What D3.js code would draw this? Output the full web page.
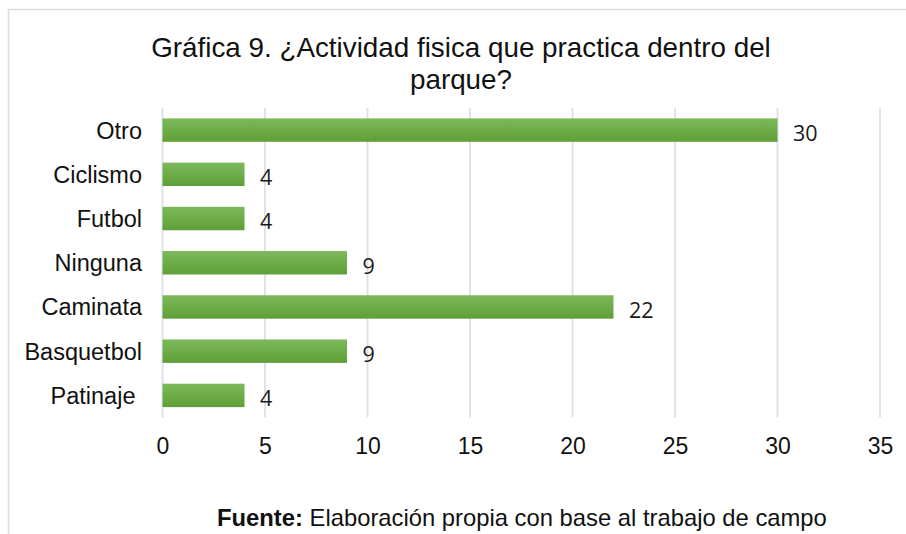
<!DOCTYPE html>
<html>
<head>
<meta charset="utf-8">
<script src="https://cdn.jsdelivr.net/npm/d3@7"></script>
<style>
  html, body { margin: 0; padding: 0; background: #fff; }
  svg { display: block; }
</style>
</head>
<body>
<svg id="chart" width="906" height="534"></svg>
<script>
const categories = ["Otro", "Ciclismo", "Futbol", "Ninguna", "Caminata", "Basquetbol", "Patinaje "];
const values = [30, 4, 4, 9, 22, 9, 4];
const xTicks = [0, 5, 10, 15, 20, 25, 30, 35];
const titleLines = ["Gráfica 9. ¿Actividad fisica que practica dentro del", "parque?"];
const sourceBold = "Fuente:";
const sourceText = " Elaboración propia con base al trabajo de campo";

const svg = d3.select("#chart");
const W = 906, H = 534;
const plot = { left: 162.5, right: 880, top: 108, bottom: 417.5 };

// frame
svg.append("line").attr("x1", 8.5).attr("x2", W).attr("y1", 9.5).attr("y2", 9.5)
  .attr("stroke", "#dadde3").attr("stroke-width", 1.5);
svg.append("line").attr("x1", 8.5).attr("x2", 8.5).attr("y1", 9.5).attr("y2", H)
  .attr("stroke", "#dadde3").attr("stroke-width", 1.5);

const defs = svg.append("defs");
const grad = defs.append("linearGradient").attr("id", "barGrad")
  .attr("x1", 0).attr("x2", 0).attr("y1", 0).attr("y2", 1);
grad.append("stop").attr("offset", "0%").attr("stop-color", "#7db95c");
grad.append("stop").attr("offset", "100%").attr("stop-color", "#5f9f35");

const x = d3.scaleLinear().domain([0, 35]).range([plot.left, plot.right]);
const y = d3.scaleBand().domain(categories).range([plot.top, plot.bottom])
  .paddingInner(0.47).paddingOuter(0.235);

// gridlines
svg.append("g").selectAll("line").data(xTicks).join("line")
  .attr("x1", d => x(d)).attr("x2", d => x(d))
  .attr("y1", plot.top).attr("y2", plot.bottom)
  .attr("stroke", "#dcdfe8").attr("stroke-width", 1.8);

// bars
const data = categories.map((c, i) => ({ c, v: values[i] }));
svg.append("g").selectAll("rect").data(data).join("rect")
  .attr("x", x(0)).attr("y", d => y(d.c))
  .attr("width", d => x(d.v) - x(0)).attr("height", y.bandwidth())
  .attr("fill", "url(#barGrad)");

// value labels
svg.append("g").selectAll("text").data(data).join("text")
  .attr("x", d => x(d.v) + 15.5).attr("y", d => y(d.c) + y.bandwidth() / 2 + 10.8)
  .attr("font-family", "'Open Sans', sans-serif").attr("font-size", 21.5)
  .attr("fill", "#1a1a1a").text(d => d.v);

// y axis (categories)
const yAxis = svg.append("g").attr("transform", `translate(${plot.left - 20.5},0)`)
  .call(d3.axisLeft(y).tickSize(0).tickPadding(0));
yAxis.select(".domain").remove();
yAxis.selectAll("text")
  .attr("font-family", "'Liberation Sans', Arial, sans-serif").attr("font-size", 23.5)
  .attr("fill", "#111").attr("dy", "0.36em").style("white-space", "pre");

// x axis
const xAxis = svg.append("g").attr("transform", `translate(0,${plot.bottom})`)
  .call(d3.axisBottom(x).tickValues(xTicks).tickSize(0).tickPadding(0).tickFormat(d3.format("d")));
xAxis.select(".domain").remove();
xAxis.selectAll("text")
  .attr("font-family", "'Liberation Sans', Arial, sans-serif").attr("font-size", 23)
  .attr("fill", "#111").attr("y", 36.5).attr("dy", 0);

// title
svg.append("g").selectAll("text").data(titleLines).join("text")
  .attr("x", 461).attr("y", (d, i) => 57 + i * 32)
  .attr("text-anchor", "middle")
  .attr("font-family", "'Liberation Sans', Arial, sans-serif").attr("font-size", 27.8)
  .attr("fill", "#111").text(d => d);

// source
const src = svg.append("text").attr("x", 217).attr("y", 526)
  .attr("font-family", "'Liberation Sans', Arial, sans-serif").attr("font-size", 23.8)
  .attr("fill", "#111").style("white-space", "pre");
src.append("tspan").attr("font-weight", "bold").text(sourceBold);
src.append("tspan").text(sourceText);
</script>
</body>
</html>
